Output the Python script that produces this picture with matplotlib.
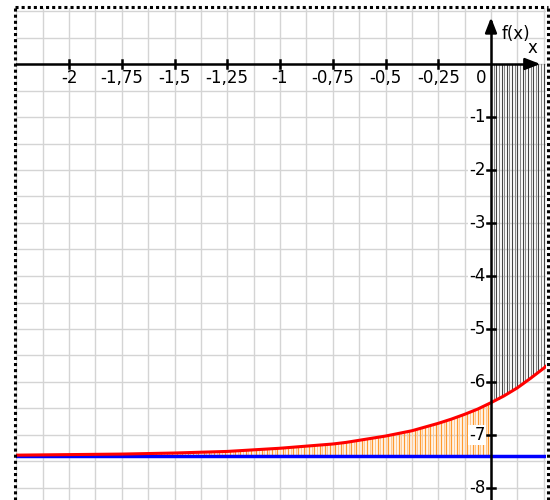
import numpy as np
import matplotlib
matplotlib.use('Agg')
import matplotlib.pyplot as plt
from matplotlib.lines import Line2D

# curve values
curve_x = [-2.25, -2.0, -1.75, -1.5, -1.25, -1.125, -1.0, -0.875, -0.8125, -0.75,
           -0.6875, -0.625, -0.5625, -0.5, -0.4375, -0.375, -0.3125, -0.25, -0.1875,
           -0.125, -0.0625, 0.0, 0.0625, 0.125, 0.1875, 0.25, 0.27]
curve_y = [-7.38, -7.37, -7.36, -7.34, -7.31, -7.28, -7.25, -7.21, -7.19, -7.17,
           -7.14, -7.10, -7.06, -7.02, -6.97, -6.92, -6.85, -6.78, -6.70,
           -6.61, -6.51, -6.39, -6.26, -6.11, -5.93, -5.74, -5.67]
asymptote = -7.39

x_ticks = [-2, -1.75, -1.5, -1.25, -1, -0.75, -0.5, -0.25]
x_labels = ['-2', '-1,75', '-1,5', '-1,25', '-1', '-0,75', '-0,5', '-0,25']
y_ticks = [-1, -2, -3, -4, -5, -6, -7, -8]
y_labels = ['-1', '-2', '-3', '-4', '-5', '-6', '-7', '-8']

W, H = 550, 500
fig = plt.figure(figsize=(W / 100, H / 100), dpi=100)
ax = fig.add_axes([16 / W, 0, 530 / W, 1 - 8 / H])
xmin, xmax = -(491 - 16) / 211, (546 - 491) / 211
ymin, ymax = -(500 - 64) / 53, (64 - 8) / 53
ax.set_xlim(xmin, xmax)
ax.set_ylim(ymin, ymax)
ax.axis('off')

# grid
for gx in np.arange(-2.25, 0.3, 0.125):
    ax.axvline(gx, color='#d4d4d4', lw=1, zorder=0)
for gy in np.arange(-8.5, 1.1, 0.5):
    ax.axhline(gy, color='#d4d4d4', lw=1, zorder=0)

# hatching
hx = np.arange(-2.25, 0.0, 0.0125)
hy = np.interp(hx, curve_x, curve_y)
for i, (a, b) in enumerate(zip(hx, hy)):
    ax.plot([a, a], [asymptote, b], color='#ff9a2e' if i % 2 else '#ffc890', lw=1, zorder=1)
bx = np.arange(0.0125, 0.26, 0.0125)
by = np.interp(bx, curve_x, curve_y)
for i, (a, b) in enumerate(zip(bx, by)):
    ax.plot([a, a], [0, b], color='#444444' if i % 2 else '#888888', lw=0.8, zorder=1)

ax.axhline(asymptote, color='#0000ff', lw=2.5, zorder=3)
ax.plot(curve_x, curve_y, color='#ff0000', lw=2.2, zorder=4)

# axes with arrows
ax.plot([xmin, 0.2], [0, 0], color='black', lw=1.8, zorder=5)
ax.plot([0, 0], [ymin, 0.8], color='black', lw=1.8, zorder=5)
ax.annotate('', xy=(0.247, 0), xytext=(0.18, 0),
            arrowprops=dict(arrowstyle='-|>,head_length=0.9,head_width=0.35', color='black', lw=1.8),
            zorder=6)
ax.annotate('', xy=(0, 0.93), xytext=(0, 0.6),
            arrowprops=dict(arrowstyle='-|>,head_length=0.9,head_width=0.35', color='black', lw=1.8),
            zorder=6)

fs = 12
for t, lab in zip(x_ticks, x_labels):
    ax.plot([t, t], [-0.075, 0.075], color='black', lw=1.8, zorder=5)
    ax.text(t, -0.1, lab, ha='center', va='top', fontsize=fs, zorder=6)
ax.text(-0.02, -0.1, '0', ha='right', va='top', fontsize=fs, zorder=6)
for t, lab in zip(y_ticks, y_labels):
    ax.plot([-0.018, 0.018], [t, t], color='black', lw=1.8, zorder=5)
    ax.text(-0.026, t, lab, ha='right', va='center', fontsize=fs, zorder=6,
            bbox=dict(facecolor='white', edgecolor='none', pad=0.5))
ax.text(0.12, 0.56, 'f(x)', ha='center', va='center', fontsize=fs, zorder=6)
ax.text(0.196, 0.3, 'x', ha='center', va='center', fontsize=fs, zorder=6)

# dotted frame
for xs, ys in [([14.5, 14.5], [0, 493]), ([14.5, 547.5], [493, 493]), ([547.5, 547.5], [0, 493])]:
    fig.add_artist(Line2D(np.array(xs) / W, np.array(ys) / H, color='black', lw=2.2,
                          linestyle=(0, (1, 1)), transform=fig.transFigure))

fig.savefig('out.png', dpi=100)
